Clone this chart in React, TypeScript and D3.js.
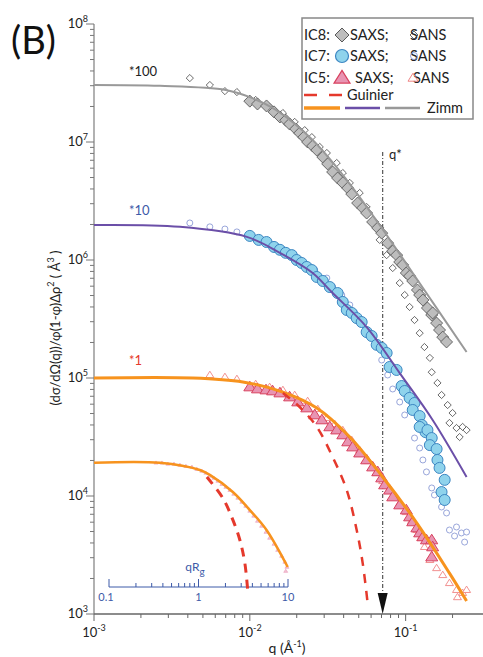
import React from 'react';
import * as d3 from 'd3';

type P = [number, number];

// ---------- DATA (q in 1/Å, intensity in Å^3) ----------
const zimmIC8: P[] = [[1e-3,3.04e7],[2.65e-3,2.99e7],[7.0e-3,2.76e7],[1.0e-2,2.4e7],[1.47e-2,1.87e7],[2.53e-2,1.04e7],[4.19e-2,4.76e6],[6.81e-2,1.98e6],[0.111,7.76e5],[0.246,1.66e5]];
const zimmIC7: P[] = [[1e-3,1.98e6],[3.56e-3,1.91e6],[9.57e-3,1.57e6],[1.56e-2,1.15e6],[2.53e-2,7.76e5],[3.40e-2,5.25e5],[5.62e-2,2.70e5],[9.16e-2,1.10e5],[0.149,4.41e4],[0.246,1.45e4]];
const zimmIC5: P[] = [[1e-3,1e5],[4.31e-3,1e5],[9.02e-3,9.25e4],[1.63e-2,7.6e4],[2.69e-2,5.57e4],[4.38e-2,3.16e4],[7.12e-2,1.45e4],[0.118,5.9e3],[0.191,2.22e3],[0.246,1.29e3]];
const zimmInset: P[] = [[1e-3,1.91e4],[2.65e-3,1.91e4],[4.78e-3,1.66e4],[5.54e-3,1.51e4],[7.78e-3,1.08e4],[1.0e-2,7.6e3],[1.28e-2,5.15e3],[1.75e-2,2.5e3]];
const guinierIC5: P[] = [[1.63e-2,7.47e4],[2.09e-2,5.68e4],[2.69e-2,3.85e4],[3.40e-2,2.14e4],[4.19e-2,1.12e4],[4.85e-2,5.15e3],[5.3e-2,2.7e3],[5.7e-2,1.24e3]];
const guinierInset: P[] = [[5.3e-3,1.45e4],[6.71e-3,9.6e3],[7.78e-3,6.27e3],[8.63e-3,4.24e3],[9.29e-3,2.7e3],[9.71e-3,1.54e3]];

const ic8Sans: P[] = [[4.12e-3,3.48e7],[5.54e-3,3.04e7],[6.92e-3,2.70e7],[8.26e-3,2.65e7],[1.09e-2,2.27e7],[1.34e-2,1.98e7],[1.63e-2,1.76e7],[1.94e-2,1.48e7],[2.25e-2,1.26e7],[2.50e-2,1.10e7],[2.81e-2,9.08e6],[3.12e-2,8.07e6],[3.61e-2,6.64e6],[3.95e-2,5.46e6],[4.38e-2,4.50e6],[5.07e-2,3.70e6],[5.62e-2,2.81e6],[6.33e-2,2.10e6],[6.81e-2,1.48e6],[7.55e-2,1.10e6],[8.26e-2,8.55e5],[9.16e-2,6.38e5],[9.86e-2,5.05e5],[0.106,4.00e5],[0.114,3.10e5],[0.123,2.40e5],[0.132,1.83e5],[0.143,1.48e5],[0.147,1.12e5],[0.160,9.08e4],[0.170,7.18e4],[0.186,5.90e4],[0.200,5.05e4],[0.191,4.16e4],[0.212,3.77e4],[0.232,3.85e4],[0.246,3.62e4],[0.222,3.16e4]];
const ic8Saxs: P[] = [[1.0e-2,2.22e7],[1.12e-2,2.10e7],[1.28e-2,2.02e7],[1.43e-2,1.80e7],[1.56e-2,1.63e7],[1.70e-2,1.53e7],[1.80e-2,1.42e7],[1.97e-2,1.29e7],[2.09e-2,1.19e7],[2.22e-2,1.10e7],[2.35e-2,1.0e7],[2.53e-2,9.25e6],[2.69e-2,8.55e6],[2.94e-2,7.46e6],[3.16e-2,6.52e6],[3.40e-2,5.57e6],[3.66e-2,4.95e6],[3.95e-2,4.50e6],[4.25e-2,4.07e6],[4.51e-2,3.62e6],[4.92e-2,3.04e6],[5.30e-2,2.76e6],[5.62e-2,2.50e6],[6.14e-2,2.10e6],[6.62e-2,1.87e6],[7.02e-2,1.69e6],[7.67e-2,1.39e6],[8.26e-2,1.19e6],[8.75e-2,1.10e6],[9.16e-2,9.62e5],[9.57e-2,9.08e5],[0.101,7.76e5],[0.106,7.31e5],[0.111,6.64e5],[0.119,5.57e5],[0.123,5.05e5],[0.129,4.58e5],[0.138,3.92e5],[0.147,3.42e5],[0.149,3.56e5],[0.158,2.92e5],[0.165,2.55e5],[0.173,2.22e5],[0.183,2.02e5]];
const ic7Sans: P[] = [[4.12e-3,2.06e6],[5.54e-3,1.91e6],[6.92e-3,1.83e6],[8.26e-3,1.73e6],[1.09e-2,1.53e6],[1.34e-2,1.37e6],[1.63e-2,1.22e6],[1.94e-2,1.08e6],[2.19e-2,9.44e5],[2.61e-2,8.22e5],[3.12e-2,7.03e5],[3.40e-2,5.90e5],[3.89e-2,5.05e5],[4.38e-2,4.16e5],[4.71e-2,3.56e5],[5.22e-2,3.10e5],[6.05e-2,2.22e5],[7.02e-2,1.42e5],[7.67e-2,1.06e5],[8.26e-2,8.07e4],[9.16e-2,6.26e4],[9.86e-2,4.86e4],[0.114,3.10e4],[0.123,2.55e4],[0.129,2.02e4],[0.136,1.60e4],[0.147,1.17e4],[0.153,1.02e4],[0.170,8.07e3],[0.183,7.18e3],[0.191,5.15e3],[0.212,5.46e3],[0.228,4.86e3],[0.239,4.07e3],[0.246,4.95e3],[0.206,4.58e3]];
const ic7Saxs: P[] = [[1.0e-2,1.60e6],[1.14e-2,1.48e6],[1.28e-2,1.42e6],[1.43e-2,1.29e6],[1.56e-2,1.22e6],[1.70e-2,1.15e6],[1.86e-2,1.10e6],[2.00e-2,1.0e6],[2.15e-2,9.44e5],[2.32e-2,8.73e5],[2.50e-2,8.22e5],[2.69e-2,7.18e5],[2.94e-2,6.64e5],[3.26e-2,5.90e5],[3.66e-2,5.25e5],[3.95e-2,4.41e5],[4.19e-2,3.77e5],[4.51e-2,3.56e5],[4.85e-2,3.22e5],[5.22e-2,2.98e5],[5.62e-2,2.45e5],[6.05e-2,2.27e5],[6.52e-2,1.91e5],[7.02e-2,1.80e5],[7.55e-2,1.63e5],[7.89e-2,1.24e5],[8.75e-2,1.17e5],[9.42e-2,8.55e4],[9.86e-2,7.76e4],[0.106,6.78e4],[0.114,6.14e4],[0.111,5.36e4],[0.123,4.76e4],[0.127,4.00e4],[0.134,3.48e4],[0.123,3.85e4],[0.138,3.62e4],[0.147,3.10e4],[0.143,2.70e4],[0.158,2.50e4],[0.160,2.02e4],[0.165,1.73e4],[0.178,1.37e4],[0.170,1.08e4],[0.178,9.25e3]];
const ic5Sans: P[] = [[5.54e-3,1.06e5],[6.92e-3,1.02e5],[8.26e-3,9.81e4],[1.09e-2,8.89e4],[1.34e-2,8.39e4],[1.63e-2,7.91e4],[1.94e-2,7.18e4],[2.35e-2,6.38e4],[2.73e-2,5.46e4],[3.12e-2,4.58e4],[3.51e-2,4.07e4],[3.95e-2,3.62e4],[4.51e-2,2.98e4],[5.07e-2,2.45e4],[5.70e-2,1.98e4],[6.52e-2,1.57e4],[7.12e-2,1.34e4],[7.89e-2,1.12e4],[8.50e-2,9.81e3],[9.16e-2,8.73e3],[0.101,7.31e3],[0.109,6.14e3],[0.118,5.15e3],[0.125,4.41e3],[0.132,3.70e3],[0.143,2.87e3],[0.158,2.45e3],[0.173,2.14e3],[0.191,1.83e3],[0.212,1.60e3],[0.232,1.51e3],[0.246,1.60e3],[0.215,1.39e3]];
const ic5Saxs: P[] = [[1.0e-2,8.39e4],[1.12e-2,8.07e4],[1.27e-2,7.91e4],[1.40e-2,7.76e4],[1.56e-2,7.46e4],[1.80e-2,6.90e4],[2.03e-2,6.26e4],[2.32e-2,5.57e4],[2.61e-2,4.86e4],[2.90e-2,4.41e4],[3.26e-2,3.85e4],[3.61e-2,3.62e4],[3.95e-2,3.29e4],[4.25e-2,2.87e4],[4.57e-2,2.60e4],[5.07e-2,2.31e4],[5.62e-2,2.02e4],[6.14e-2,1.76e4],[6.62e-2,1.60e4],[7.02e-2,1.42e4],[7.33e-2,1.24e4],[7.89e-2,1.12e4],[8.26e-2,9.81e3],[9.16e-2,8.39e3],[0.101,7.60e3],[0.106,6.64e3],[0.111,6.03e3],[0.118,5.36e3],[0.123,4.86e3],[0.129,4.50e3],[0.136,4.24e3],[0.147,4.24e3],[0.149,3.70e3],[0.147,3.04e3]];
const insetData: P[] = [[2.50e-3,1.91e4],[2.73e-3,1.91e4],[2.98e-3,1.87e4],[3.26e-3,1.87e4],[3.56e-3,1.83e4],[3.89e-3,1.79e4],[4.25e-3,1.76e4],[4.57e-3,1.69e4],[4.92e-3,1.63e4],[5.22e-3,1.57e4],[5.54e-3,1.48e4],[5.88e-3,1.42e4],[6.24e-3,1.34e4],[6.62e-3,1.26e4],[7.02e-3,1.19e4],[7.45e-3,1.12e4],[7.89e-3,1.04e4],[8.38e-3,9.62e3],[8.89e-3,8.89e3],[9.42e-3,8.22e3],[1.0e-2,7.46e3],[1.06e-2,6.78e3],[1.12e-2,6.14e3],[1.19e-2,5.57e3],[1.27e-2,4.95e3],[1.34e-2,4.41e3],[1.43e-2,3.92e3],[1.51e-2,3.48e3],[1.60e-2,3.10e3],[1.68e-2,2.76e3],[1.73e-2,2.50e3],[1.70e-2,2.31e3]];

const qStar = 0.0712;
const xDecades = [1e-3, 1e-2, 1e-1];
const xDecadeLabels = ['-3', '-2', '-1'];
const yDecades = [1e3, 1e4, 1e5, 1e6, 1e7, 1e8];
const yDecadeLabels = ['3', '4', '5', '6', '7', '8'];
const insetTicks = [0.1, 1, 10];
const insetTickLabels = ['0.1', '1', '10'];

const FONT = 'Lato, "Open Sans", sans-serif';

function diamond(cx: number, cy: number, r: number) {
  return `M${cx},${cy - r}L${cx + r},${cy}L${cx},${cy + r}L${cx - r},${cy}Z`;
}
function tri(cx: number, cy: number, r: number) {
  const h = r * 1.6;
  return `M${cx},${cy - h * 0.6}L${cx + r},${cy + h * 0.4}L${cx - r},${cy + h * 0.4}Z`;
}

export default function App() {
  const x = d3.scaleLog().domain([1e-3, 0.3]).range([94, 480]);
  const y = d3.scaleLog().domain([1e3, 1e8]).range([614, 24]);
  const line = d3.line<P>().x(d => x(d[0])).y(d => y(d[1])).curve(d3.curveCatmullRom);
  const xi = d3.scaleLog().domain([0.1, 10]).range([109, 288]);

  const xMinor: number[] = [];
  xDecades.forEach(dd => { for (let k = 2; k <= 9; k++) { const v = dd * k; if (v <= 0.3) xMinor.push(v); } });
  const yMinor: number[] = [];
  yDecades.slice(0, -1).forEach(dd => { for (let k = 2; k <= 9; k++) yMinor.push(dd * k); });
  const iMinor: number[] = [];
  [0.1, 1].forEach(dd => { for (let k = 2; k <= 9; k++) iMinor.push(dd * k); });

  const blue = '#3d5aa8';
  const red = '#e5392c';

  return (
    <svg width={483} height={657} style={{ position: 'absolute', left: 0, top: 0, fontFamily: FONT }}>
      <rect width={483} height={657} fill="#fff" />
      {/* (B) */}
      <text x={11} y={54} fontSize={38} fill="#111">(B)</text>

      {/* axes */}
      <line x1={94} x2={94} y1={y(1e8)} y2={y(1e3)} stroke="#888" strokeWidth={1.3} />
      <line x1={94} x2={483} y1={614} y2={614} stroke="#666" strokeWidth={1.3} />
      {yDecades.map((v, i) => (
        <g key={'yd' + i}>
          <line x1={86} x2={94} y1={y(v)} y2={y(v)} stroke="#777" strokeWidth={1} />
          <text x={88} y={y(v) + 4} textAnchor="end" fontSize={13} fill="#222">10<tspan dy={-6} fontSize={9}>{yDecadeLabels[i]}</tspan></text>
        </g>
      ))}
      {yMinor.map((v, i) => <line key={'ym' + i} x1={90} x2={94} y1={y(v)} y2={y(v)} stroke="#777" strokeWidth={1} />)}
      {xDecades.map((v, i) => (
        <g key={'xd' + i}>
          <line x1={x(v)} x2={x(v)} y1={614} y2={621} stroke="#666" strokeWidth={1} />
          <text x={x(v)} y={637} textAnchor="middle" fontSize={13} fill="#222">10<tspan dy={-6} fontSize={9}>{xDecadeLabels[i]}</tspan></text>
        </g>
      ))}
      {xMinor.map((v, i) => <line key={'xm' + i} x1={x(v)} x2={x(v)} y1={614} y2={618} stroke="#666" strokeWidth={1} />)}

      <text x={287} y={653} textAnchor="middle" fontSize={14} fill="#222">q (Å<tspan dy={-6} fontSize={9}>-1</tspan><tspan dy={6}>)</tspan></text>
      <text transform="translate(60,328) rotate(-90)" textAnchor="middle" fontSize={13} fill="#222">(dσ/dΩ(q))/φ(1-φ)Δρ<tspan dy={-6} fontSize={9}>2</tspan><tspan dy={6}> ( Å</tspan><tspan dy={-6} fontSize={9}>3</tspan><tspan dy={6}> )</tspan></text>

      {/* inset qRg axis */}
      <line x1={xi(0.1)} x2={xi(10)} y1={587} y2={587} stroke={blue} strokeWidth={1} />
      {insetTicks.map((v, i) => (
        <g key={'it' + i}>
          <line x1={xi(v)} x2={xi(v)} y1={587} y2={579} stroke={blue} strokeWidth={1} />
          <text x={xi(v) + (i === 0 ? -3 : 0)} y={601} textAnchor="middle" fontSize={11} fill={blue}>{insetTickLabels[i]}</text>
        </g>
      ))}
      {iMinor.map((v, i) => <line key={'im' + i} x1={xi(v)} x2={xi(v)} y1={587} y2={583} stroke={blue} strokeWidth={1} />)}
      <text x={195} y={571} textAnchor="middle" fontSize={12} fill={blue}>qR<tspan dy={4} fontSize={10}>g</tspan></text>

      {/* q* line */}
      <line x1={x(qStar)} x2={x(qStar)} y1={152} y2={596} stroke="#555" strokeWidth={1.2} strokeDasharray="4,2,1,2" />
      <path d={`M${x(qStar) - 5},593L${x(qStar) + 5},593L${x(qStar)},614Z`} fill="#111" />
      <text x={389} y={159} fontSize={13} fill="#222">q*</text>

      {/* curve labels */}
      <text x={129} y={76} fontSize={13} fill="#222">*100</text>
      <text x={129} y={215} fontSize={13} fill={blue}>*10</text>
      <text x={129} y={365} fontSize={13} fill={red}>*1</text>

      {/* SANS markers */}
      {ic8Sans.map((d, i) => <path key={'a' + i} d={diamond(x(d[0]), y(d[1]), 3.6)} fill="#fff" stroke="#444" strokeWidth={0.8} />)}
      {ic7Sans.map((d, i) => <circle key={'b' + i} cx={x(d[0])} cy={y(d[1])} r={3} fill="#fff" stroke="#7f8fd0" strokeWidth={0.8} />)}
      {ic5Sans.map((d, i) => <path key={'c' + i} d={tri(x(d[0]), y(d[1]), 4)} fill="#fff" stroke="#ef8585" strokeWidth={0.9} />)}
      {insetData.map((d, i) => <path key={'n' + i} d={tri(x(d[0]), y(d[1]), 2)} fill="#f3c3d5" stroke="#e99ab8" strokeWidth={0.6} />)}

      {/* SAXS markers */}
      {ic8Saxs.map((d, i) => <path key={'d' + i} d={diamond(x(d[0]), y(d[1]), 6)} fill="#bdbdbd" stroke="#5a5a5a" strokeWidth={0.9} />)}
      {ic7Saxs.map((d, i) => <circle key={'e' + i} cx={x(d[0])} cy={y(d[1])} r={5.5} fill="#8fd3ec" stroke="#3c86c2" strokeWidth={1} />)}
      {ic5Saxs.map((d, i) => <path key={'f' + i} d={tri(x(d[0]), y(d[1]), 6)} fill="#e894b2" stroke="#d8405e" strokeWidth={1} />)}

      {/* fit lines */}
      <path d={line(zimmIC8) || ''} fill="none" stroke="#999" strokeWidth={2} />
      <path d={line(zimmIC7) || ''} fill="none" stroke="#6b4fa8" strokeWidth={2} />
      <path d={line(zimmIC5) || ''} fill="none" stroke="#f7931e" strokeWidth={3} />
      <path d={line(zimmInset) || ''} fill="none" stroke="#f7931e" strokeWidth={2.5} />
      <path d={line(guinierIC5) || ''} fill="none" stroke={red} strokeWidth={2.5} strokeDasharray="9,8" />
      <path d={line(guinierInset) || ''} fill="none" stroke={red} strokeWidth={3} strokeDasharray="9,7" />

      {/* legend */}
      <rect x={302} y={18} width={171} height={101} fill="#fff" stroke="#888" strokeWidth={1.5} />
      <g fontSize={14.5} fill="#222">
        <text x={304} y={40}>IC8:</text>
        <path d={diamond(342, 35, 7)} fill="#bdbdbd" stroke="#5a5a5a" strokeWidth={1} />
        <text x={350} y={40}>SAXS;</text>
        <text x={410} y={40}>SANS</text>
        <path d={diamond(414, 35, 4)} fill="none" stroke="#444" strokeWidth={0.8} />

        <text x={304} y={61}>IC7:</text>
        <circle cx={342} cy={56} r={6.5} fill="#8fd3ec" stroke="#3c86c2" strokeWidth={1.2} />
        <text x={350} y={61}>SAXS;</text>
        <text x={410} y={61}>SANS</text>
        <circle cx={414} cy={56} r={3.5} fill="none" stroke="#7f8fd0" strokeWidth={0.8} />

        <text x={304} y={83}>IC5:</text>
        <path d={tri(342, 78, 8)} fill="#e894b2" stroke="#d8405e" strokeWidth={1.2} />
        <text x={355} y={83}>SAXS;</text>
        <text x={413} y={83}>SANS</text>
        <path d={tri(413, 78, 5)} fill="none" stroke="#ef8585" strokeWidth={1} />

        <line x1={304} x2={317} y1={95} y2={95} stroke={red} strokeWidth={2.5} />
        <line x1={329} x2={342} y1={95} y2={95} stroke={red} strokeWidth={2.5} />
        <text x={347} y={100}>Guinier</text>
        <line x1={304} x2={340} y1={108} y2={108} stroke="#f7931e" strokeWidth={3.5} />
        <line x1={345} x2={380} y1={108} y2={108} stroke="#6b4fa8" strokeWidth={2.5} />
        <line x1={385} x2={420} y1={108} y2={108} stroke="#999" strokeWidth={2.5} />
        <text x={427} y={113}>Zimm</text>
      </g>
    </svg>
  );
}
